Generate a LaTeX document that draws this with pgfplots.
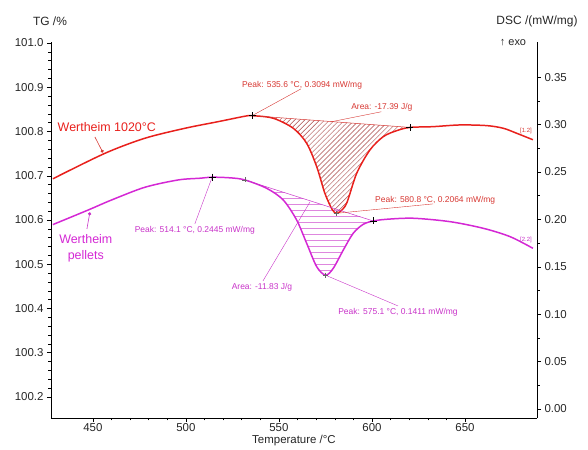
\documentclass[border=0pt]{standalone}
\usepackage{fontspec}
\setmainfont{Liberation Sans}
\usepackage{pgfplots}
\pgfplotsset{compat=1.18}
\usepgfplotslibrary{fillbetween}
\usetikzlibrary{patterns,arrows.meta}
\definecolor{cred}{RGB}{232,32,28}
\definecolor{cmag}{RGB}{212,40,212}
\definecolor{tred}{RGB}{215,55,50}
\definecolor{tmag}{RGB}{200,50,200}
\definecolor{hatchred}{RGB}{170,75,75}
\definecolor{hatchmag}{RGB}{205,70,205}
\pgfdeclarepatterninherentlycolored{redhatch}{\pgfqpoint{-1pt}{-1pt}}{\pgfqpoint{6pt}{6pt}}{\pgfqpoint{5pt}{5pt}}{%
  \pgfsetcolor{hatchred}\pgfsetlinewidth{0.45pt}%
  \pgfpathmoveto{\pgfqpoint{-0.1pt}{-0.1pt}}\pgfpathlineto{\pgfqpoint{5.1pt}{5.1pt}}\pgfusepath{stroke}}
\pgfdeclarepatterninherentlycolored{maghatch}{\pgfpointorigin}{\pgfqpoint{100pt}{6pt}}{\pgfqpoint{100pt}{6pt}}{%
  \pgfsetcolor{hatchmag}%
  \pgfpathrectangle{\pgfpointorigin}{\pgfqpoint{100pt}{0.55pt}}\pgfusepath{fill}}

\begin{document}
\begin{tikzpicture}[x=1bp,y=1bp]
\path (-51bp,-31bp) rectangle (537bp,418bp);
% ---- TG axis (left) ----
\begin{axis}[
  at={(0,0)}, anchor=south west,
  scale only axis, width=486bp, height=376bp,
  xmin=427.5, xmax=688.7,
  ymin=100.1525, ymax=101.0023,
  axis y line*=left, axis x line*=bottom,
  axis line style={black, line width=0.6pt},
  tick align=outside,
  major tick length=4bp, minor tick length=2.5bp,
  tick style={black, line width=0.5pt},
  xtick={450,500,550,600,650}, minor x tick num=4,
  ytick={100.2,100.3,100.4,100.5,100.6,100.7,100.8,100.9,101.0},
  minor y tick num=4,
  xticklabel shift=-2.5bp,
  /pgf/number format/assume math mode=true,
  yticklabel style={/pgf/number format/.cd, fixed, fixed zerofill, precision=1},
  xticklabel style={/pgf/number format/.cd, fixed, precision=0},
  ticklabel style={font=\fontsize{11.5}{13}\selectfont, text=black!85},
]
\addplot[draw=none] coordinates {(450,100.5)};
\end{axis}
% ---- DSC axis (right) ----
\begin{axis}[
  at={(0,0)}, anchor=south west,
  scale only axis, width=486bp, height=376bp,
  xmin=427.5, xmax=688.7,
  ymin=-0.0095, ymax=0.3871,
  set layers,
  axis y line*=right, axis x line=none,
  axis line style={black, line width=0.6pt},
  tick align=outside,
  major tick length=4bp, minor tick length=2.5bp,
  tick style={black, line width=0.5pt},
  ytick={0,0.05,0.10,0.15,0.20,0.25,0.30,0.35}, minor y tick num=1,
  /pgf/number format/assume math mode=true,
  yticklabel style={/pgf/number format/.cd, fixed, fixed zerofill, precision=2},
  ticklabel style={font=\fontsize{11.5}{13}\selectfont, text=black!85},
]
% red curve (Wertheim 1020 C)
\addplot[name path=redc, cred, line width=1.5pt, smooth, tension=0.5] coordinates {
(428.5,0.2428) (456.5,0.2697) (478.0,0.2856) (499.5,0.2961) (517.4,0.3031)
(531.7,0.3088) (535.6,0.3094) (546.9,0.3067) (557.7,0.2961) (564.9,0.2803)
(570.3,0.2556) (574.7,0.2275) (578.6,0.2105) (580.8,0.2064) (582.8,0.2081)
(586.4,0.2170) (591.8,0.2486) (598.9,0.2732) (606.1,0.2873) (613.3,0.2936)
(620.4,0.2970) (632.8,0.2978) (647.3,0.2996) (661.7,0.2989) (670.6,0.2961)
(677.8,0.2908) (686.5,0.2840)};
\addplot[name path=redb, tred, line width=0.5pt] coordinates {(535.6,0.3094) (620.4,0.2970)};
\addplot[draw=none, pattern=redhatch]
  fill between[of=redc and redb, soft clip={domain=535.6:620.4}];
% magenta curve (Wertheim pellets)
\addplot[name path=magc, cmag, line width=1.5pt, smooth, tension=0.5] coordinates {
(428.5,0.1945) (447.5,0.2099) (460.1,0.2205) (478.0,0.2339) (495.9,0.2416)
(507.5,0.2434) (514.1,0.2445) (524.0,0.2438) (531.7,0.2416) (543.4,0.2328)
(552.3,0.2205) (559.5,0.1994) (564.9,0.1748) (570.3,0.1501) (575.1,0.1411)
(579.2,0.1484) (584.6,0.1677) (589.9,0.1853) (595.3,0.1948) (600.7,0.1983)
(607.9,0.2001) (622.2,0.2012) (641.9,0.1976) (659.8,0.1906) (674.2,0.1818)
(686.5,0.1695)};
\addplot[name path=magb, tmag, line width=0.5pt] coordinates {(531.7,0.2416) (600.7,0.1983)};
\addplot[draw=none, pattern=maghatch]
  fill between[of=magc and magb, soft clip={domain=531.7:600.7}];
% peak / limit marks
\addplot[only marks, mark=+, mark size=3.5bp, black, line width=0.6pt] coordinates {
(535.6,0.3094) (620.4,0.2970) (514.1,0.2445) (600.7,0.1983)};
\addplot[only marks, mark=+, mark size=2.5bp, black!60, line width=0.4pt] coordinates {
(531.7,0.2416) (580.8,0.2064) (575.1,0.1411)};
% leader lines
\draw[tred, line width=0.4pt] (axis cs:561.8,0.3376) -- (axis cs:535.6,0.3094);
\draw[tred, line width=0.4pt] (axis cs:605.0,0.3135) -- (axis cs:577.8,0.3028);
\draw[tred, line width=0.4pt] (axis cs:632.8,0.2163) -- (axis cs:580.8,0.2064);
\draw[tmag, line width=0.4pt] (axis cs:504.8,0.1952) -- (axis cs:514.1,0.2445);
\draw[tmag, line width=0.4pt] (axis cs:541.4,0.1350) -- (axis cs:566.7,0.2184);
\draw[tmag, line width=0.4pt] (axis cs:614.0,0.1087) -- (axis cs:575.1,0.1411);
\draw[tred, line width=0.6pt, -{Circle[length=3.2bp]}] (axis cs:451.1,0.2869) -- (axis cs:455.4,0.2705);
\draw[tmag, line width=0.6pt, -{Circle[length=3.2bp]}] (axis cs:446.8,0.1899) -- (axis cs:448.4,0.2075);
% annotation texts
\node[text=tred, font=\fontsize{8.5}{10}\selectfont, inner sep=0pt] at (axis cs:562.4,0.3418) {Peak: 535.6 °C, 0.3094 mW/mg};
\node[text=tred, font=\fontsize{8.5}{10}\selectfont, inner sep=0pt] at (axis cs:605.3,0.3186) {Area: -17.39 J/g};
\node[text=tred, font=\fontsize{8.5}{10}\selectfont, inner sep=0pt] at (axis cs:634.0,0.2205) {Peak: 580.8 °C, 0.2064 mW/mg};
\node[text=tmag, font=\fontsize{8.5}{10}\selectfont, inner sep=0pt] at (axis cs:504.8,0.1888) {Peak: 514.1 °C, 0.2445 mW/mg};
\node[text=tmag, font=\fontsize{8.5}{10}\selectfont, inner sep=0pt] at (axis cs:540.9,0.1287) {Area: -11.83 J/g};
\node[text=tmag, font=\fontsize{8.5}{10}\selectfont, inner sep=0pt] at (axis cs:614.0,0.1023) {Peak: 575.1 °C, 0.1411 mW/mg};
\node[text=tred, font=\fontsize{6}{7}\selectfont, inner sep=0pt] at (axis cs:682.8,0.2935) {[1.2]};
\node[text=tmag, font=\fontsize{6}{7}\selectfont, inner sep=0pt] at (axis cs:682.8,0.1785) {[2.2]};
\node[text=cred, font=\fontsize{12.5}{14}\selectfont, inner sep=0pt] at (axis cs:457.5,0.2975) {Wertheim 1020°C};
\node[text=cmag, font=\fontsize{12.5}{16}\selectfont, inner sep=0pt, align=center] at (axis cs:446.2,0.1700) {Wertheim\\pellets};
\end{axis}
% axis titles
\node[font=\fontsize{12}{14}\selectfont, text=black!85] at (-1bp,397bp) {TG /\%};
\node[font=\fontsize{12}{14}\selectfont, text=black!85] at (486bp,397bp) {DSC /(mW/mg)};
\node[font=\fontsize{11}{13}\selectfont, text=black!85] at (462bp,375bp) {↑ exo};
\node[font=\fontsize{11.5}{13}\selectfont, text=black!85] at (243bp,-23bp) {Temperature /°C};
\end{tikzpicture}
\end{document}
